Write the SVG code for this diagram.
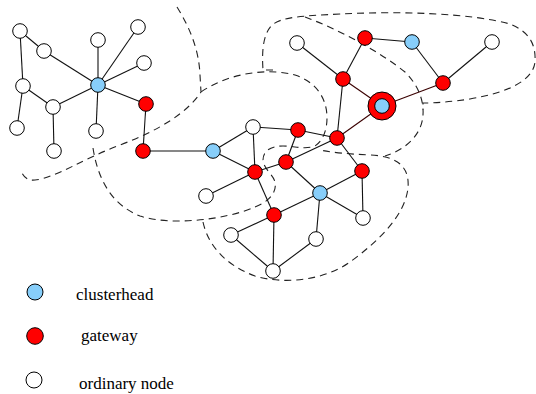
<svg xmlns="http://www.w3.org/2000/svg" width="536" height="394" viewBox="0 0 536 394">
  <style>
    .bound { fill: none; stroke: #222; stroke-width: 1.1; stroke-dasharray: 7 5; }
    .edge { stroke: #111; stroke-width: 1.1; }
    .link { stroke: #3a0000; stroke-width: 1.1; }
    .node { stroke: #000; stroke-width: 1; }
    .head { fill: #87cefa; }
    .gw { fill: #ff0000; }
    .ord { fill: #ffffff; }
    .lbl { font-family: "Liberation Serif", "Times New Roman", serif; font-size: 17px; fill: #000; }
  </style>
  <rect width="536" height="394" fill="#fff"/>

  <!-- cluster boundaries -->
  <g id="boundaries">
    <path class="bound" d="M177,7 C190,28 199,50 200,75 L201,92 C188,112 160,130 120,145 C85,158 55,178 35,180 C28,181 24,177 22,173"/>
    <path class="bound" d="M93,148 C98,180 112,205 140,216 C170,226 225,220 255,207 C270,201 277,192 275,182 C273,174 264,170 263,160 C263,150 272,146 283,146 C295,146 305,150 315,146 C324,140 327,128 327,118 C327,98 316,82 295,75 C270,68 230,72 201,92"/>
    <path class="bound" d="M203,222 C208,245 225,265 255,276 C285,285 325,280 350,262 C380,240 405,215 408,188 C410,165 395,156 370,155 C350,154 335,153 320,150"/>
    <path class="bound" d="M305,17 C340,30 380,52 405,72 C418,85 424,100 423,115 C422,135 405,150 385,156"/>
    <path class="bound" d="M273,70 L263,70 C262,55 262,35 272,25 C282,17 300,16 340,14 C400,11 470,13 510,24 C530,32 536,45 535,62 C533,80 510,92 470,99 C450,102 435,103 423,103 L423,110"/>
  </g>

  <!-- connectors -->
  <g id="connectors">
    <line class="edge" x1="20" y1="31" x2="44" y2="51"/>
    <line class="edge" x1="20" y1="31" x2="23" y2="86"/>
    <line class="edge" x1="44" y1="51" x2="98" y2="85"/>
    <line class="edge" x1="98" y1="40" x2="98" y2="85"/>
    <line class="edge" x1="138" y1="27" x2="98" y2="85"/>
    <line class="edge" x1="144" y1="63" x2="98" y2="85"/>
    <line class="edge" x1="98" y1="85" x2="146" y2="104"/>
    <line class="edge" x1="98" y1="85" x2="53" y2="107"/>
    <line class="edge" x1="98" y1="85" x2="96" y2="131"/>
    <line class="edge" x1="23" y1="86" x2="53" y2="107"/>
    <line class="edge" x1="23" y1="86" x2="17" y2="128"/>
    <line class="edge" x1="53" y1="107" x2="54" y2="151"/>
    <line class="edge" x1="146" y1="104" x2="143" y2="151"/>
    <line class="edge" x1="143" y1="151" x2="213" y2="151"/>
    <line class="edge" x1="213" y1="151" x2="253" y2="127"/>
    <line class="edge" x1="213" y1="151" x2="255" y2="172"/>
    <line class="edge" x1="253" y1="127" x2="255" y2="172"/>
    <line class="edge" x1="253" y1="127" x2="298" y2="130"/>
    <line class="edge" x1="298" y1="130" x2="286" y2="162"/>
    <line class="edge" x1="298" y1="130" x2="337" y2="138"/>
    <line class="edge" x1="286" y1="162" x2="255" y2="172"/>
    <line class="edge" x1="286" y1="162" x2="337" y2="138"/>
    <line class="edge" x1="286" y1="162" x2="320" y2="193"/>
    <line class="edge" x1="255" y1="172" x2="206" y2="196"/>
    <line class="edge" x1="255" y1="172" x2="274" y2="215"/>
    <line class="edge" x1="337" y1="138" x2="343" y2="79"/>
    <line class="edge" x1="337" y1="138" x2="362" y2="171"/>
    <line class="edge" x1="343" y1="79" x2="297" y2="43"/>
    <line class="edge" x1="343" y1="79" x2="365" y2="38"/>
    <line class="edge" x1="365" y1="38" x2="412" y2="42"/>
    <line class="edge" x1="412" y1="42" x2="443" y2="83"/>
    <line class="edge" x1="443" y1="83" x2="492" y2="42"/>
    <line class="edge" x1="320" y1="193" x2="362" y2="171"/>
    <line class="edge" x1="320" y1="193" x2="363" y2="218"/>
    <line class="edge" x1="320" y1="193" x2="316" y2="239"/>
    <line class="edge" x1="320" y1="193" x2="274" y2="215"/>
    <line class="edge" x1="362" y1="171" x2="363" y2="218"/>
    <line class="edge" x1="274" y1="215" x2="273" y2="271"/>
    <line class="edge" x1="274" y1="215" x2="231" y2="235"/>
    <line class="edge" x1="231" y1="235" x2="273" y2="271"/>
    <line class="edge" x1="316" y1="239" x2="273" y2="271"/>
    <line class="link" x1="343" y1="79" x2="382" y2="106"/>
    <line class="link" x1="382" y1="106" x2="443" y2="83"/>
    <line class="link" x1="382" y1="106" x2="337" y2="138"/>
  </g>

  <!-- nodes -->
  <g id="n-w1"><circle class="node ord" cx="20" cy="31" r="7.3"/></g>
  <g id="n-w2"><circle class="node ord" cx="44" cy="51" r="7.3"/></g>
  <g id="n-w3"><circle class="node ord" cx="98" cy="40" r="7.3"/></g>
  <g id="n-w4"><circle class="node ord" cx="138" cy="27" r="7.3"/></g>
  <g id="n-w5"><circle class="node ord" cx="144" cy="63" r="7.3"/></g>
  <g id="n-w6"><circle class="node ord" cx="23" cy="86" r="7.3"/></g>
  <g id="n-w7"><circle class="node ord" cx="53" cy="107" r="7.3"/></g>
  <g id="n-w8"><circle class="node ord" cx="17" cy="128" r="7.3"/></g>
  <g id="n-w9"><circle class="node ord" cx="96" cy="131" r="7.3"/></g>
  <g id="n-w10"><circle class="node ord" cx="54" cy="151" r="7.3"/></g>
  <g id="n-w11"><circle class="node ord" cx="297" cy="43" r="7.3"/></g>
  <g id="n-w12"><circle class="node ord" cx="253" cy="127" r="7.3"/></g>
  <g id="n-w13"><circle class="node ord" cx="206" cy="196" r="7.3"/></g>
  <g id="n-w14"><circle class="node ord" cx="492" cy="42" r="7.3"/></g>
  <g id="n-w15"><circle class="node ord" cx="363" cy="218" r="7.3"/></g>
  <g id="n-w16"><circle class="node ord" cx="316" cy="239" r="7.3"/></g>
  <g id="n-w17"><circle class="node ord" cx="273" cy="271" r="7.3"/></g>
  <g id="n-w18"><circle class="node ord" cx="231" cy="235" r="7.3"/></g>

  <g id="n-ch1"><circle class="node head" cx="98" cy="85" r="7.3"/></g>
  <g id="n-ch2"><circle class="node head" cx="213" cy="151" r="7.3"/></g>
  <g id="n-ch3"><circle class="node head" cx="320" cy="193" r="7.3"/></g>
  <g id="n-ch4"><circle class="node head" cx="412" cy="42" r="7.3"/></g>
  <g id="n-ch5">
    <circle class="node gw" cx="382" cy="106" r="14"/>
    <circle class="node head" cx="382" cy="106" r="7.3"/>
  </g>

  <g id="n-g1"><circle class="node gw" cx="146" cy="104" r="7.3"/></g>
  <g id="n-g2"><circle class="node gw" cx="143" cy="151" r="7.3"/></g>
  <g id="n-g3"><circle class="node gw" cx="365" cy="38" r="7.3"/></g>
  <g id="n-g4"><circle class="node gw" cx="343" cy="79" r="7.3"/></g>
  <g id="n-g5"><circle class="node gw" cx="298" cy="130" r="7.3"/></g>
  <g id="n-g6"><circle class="node gw" cx="337" cy="138" r="7.3"/></g>
  <g id="n-g7"><circle class="node gw" cx="286" cy="162" r="7.3"/></g>
  <g id="n-g8"><circle class="node gw" cx="255" cy="172" r="7.3"/></g>
  <g id="n-g9"><circle class="node gw" cx="362" cy="171" r="7.3"/></g>
  <g id="n-g10"><circle class="node gw" cx="443" cy="83" r="7.3"/></g>
  <g id="n-g11"><circle class="node gw" cx="274" cy="215" r="7.3"/></g>

  <!-- legend -->
  <g id="legend">
    <circle class="node head" cx="35" cy="292" r="8"/>
    <text class="lbl" x="76" y="300">clusterhead</text>
    <circle class="node gw" cx="35" cy="336" r="8.3"/>
    <text class="lbl" x="81" y="341">gateway</text>
    <circle class="node ord" cx="34" cy="380" r="8"/>
    <text class="lbl" x="79" y="389">ordinary node</text>
  </g>
</svg>
